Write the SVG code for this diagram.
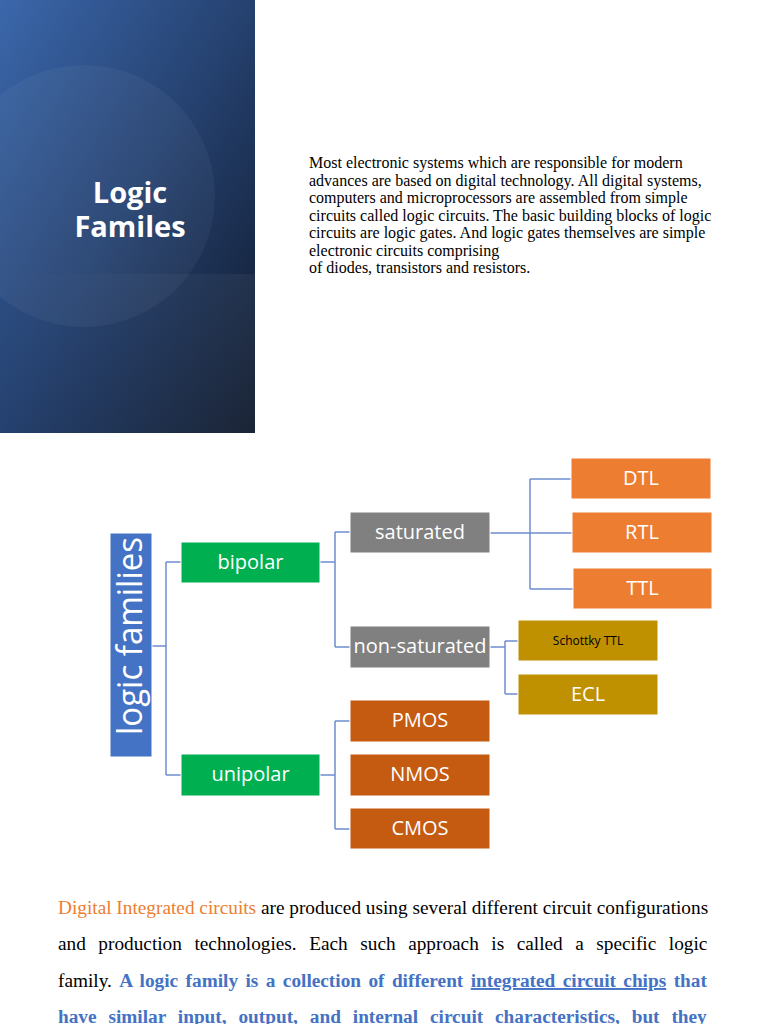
<svg xmlns="http://www.w3.org/2000/svg" width="768" height="1024" viewBox="0 0 768 1024">
<defs>
<linearGradient id="bg" x1="0" y1="0" x2="1" y2="1">
<stop offset="0" stop-color="#3b67ab"/>
<stop offset="0.5" stop-color="#25416f"/>
<stop offset="1" stop-color="#0f192b"/>
</linearGradient>
<linearGradient id="band" x1="0" y1="0" x2="1" y2="0">
<stop offset="0" stop-color="#ffffff" stop-opacity="0"/>
<stop offset="1" stop-color="#ffffff" stop-opacity="0.05"/>
</linearGradient>
<style>
.box{stroke:#ffffff;stroke-width:1}
.lbl{font-family:"Open Sans","Noto Sans",sans-serif;font-size:20px;fill:#ffffff;text-anchor:middle}
.conn{fill:none;stroke:#6f8fd0;stroke-width:1.5}
.para{font-family:"Liberation Serif","Times New Roman",serif;font-size:16px;fill:#000000}
.body{font-family:"Liberation Serif","Times New Roman",serif;font-size:19.3px;fill:#000000}
.bb{font-weight:bold;fill:#4472c4}
.ttl{font-family:"Open Sans","Noto Sans",sans-serif;font-weight:bold;font-size:29px;fill:#ffffff;text-anchor:middle}
</style>
</defs>
<rect width="768" height="1024" fill="#ffffff"/>

<g id="title-panel">
<rect x="0" y="0" width="255" height="433" fill="url(#bg)"/>
<rect x="0" y="274" width="255" height="159" fill="url(#band)"/>
<circle cx="84" cy="196" r="131" fill="#ffffff" fill-opacity="0.045"/>
<text class="ttl"><tspan x="130" y="203">Logic</tspan><tspan x="130" y="237">Familes</tspan></text>
</g>

<g id="intro-text">
<text x="309" y="168" class="para">Most electronic systems which are responsible for modern</text>
<text x="309" y="185.5" class="para">advances are based on digital technology. All digital systems,</text>
<text x="309" y="203" class="para">computers and microprocessors are assembled from simple</text>
<text x="309" y="220.5" class="para">circuits called logic circuits. The basic building blocks of logic</text>
<text x="309" y="238" class="para">circuits are logic gates. And logic gates themselves are simple</text>
<text x="309" y="255.5" class="para">electronic circuits comprising</text>
<text x="309" y="273" class="para">of diodes, transistors and resistors.</text>
</g>

<g id="connectors">
<path class="conn" d="M152 646 H166 M166 562 V775 M166 562 H181 M166 775 H181"/>
<path class="conn" d="M320 562 H335 M335 532 V647 M335 532 H350 M335 647 H350"/>
<path class="conn" d="M490 533 H572 M530 479 V589 M530 479 H571 M530 589 H573"/>
<path class="conn" d="M490 647 H505 M505 641 V694 M505 641 H518 M505 694 H518"/>
<path class="conn" d="M320 775 H335 M335 721 V829 M335 721 H350 M335 829 H350"/>
</g>

<g id="node-logic-families">
<rect class="box" x="110" y="533" width="42" height="224" fill="#4472c4"/>
<text class="lbl" transform="translate(142,636) rotate(-90)" x="0" y="0" style="font-size:34px" textLength="198" lengthAdjust="spacingAndGlyphs">logic families</text>
</g>
<g id="node-bipolar">
<rect class="box" x="181" y="542" width="139" height="41" fill="#00b050"/>
<text class="lbl" x="250.5" y="569">bipolar</text>
</g>
<g id="node-unipolar">
<rect class="box" x="181" y="754" width="139" height="42" fill="#00b050"/>
<text class="lbl" x="250.5" y="781">unipolar</text>
</g>
<g id="node-saturated">
<rect class="box" x="350" y="512" width="140" height="41" fill="#808080"/>
<text class="lbl" x="420" y="539">saturated</text>
</g>
<g id="node-non-saturated">
<rect class="box" x="350" y="626" width="140" height="42" fill="#808080"/>
<text class="lbl" x="420" y="653">non-saturated</text>
</g>
<g id="node-dtl">
<rect class="box" x="571" y="458" width="140" height="41" fill="#ed7d31"/>
<text class="lbl" x="641" y="485">DTL</text>
</g>
<g id="node-rtl">
<rect class="box" x="572" y="512" width="140" height="41" fill="#ed7d31"/>
<text class="lbl" x="642" y="539">RTL</text>
</g>
<g id="node-ttl">
<rect class="box" x="573" y="568" width="139" height="41" fill="#ed7d31"/>
<text class="lbl" x="642.5" y="595">TTL</text>
</g>
<g id="node-schottky-ttl">
<rect class="box" x="518" y="620" width="140" height="41" fill="#bf9000"/>
<text class="lbl" x="588" y="644.5" style="font-size:12px;fill:#000000">Schottky TTL</text>
</g>
<g id="node-ecl">
<rect class="box" x="518" y="674" width="140" height="41" fill="#bf9000"/>
<text class="lbl" x="588" y="701">ECL</text>
</g>
<g id="node-pmos">
<rect class="box" x="350" y="700" width="140" height="42" fill="#c55a11"/>
<text class="lbl" x="420" y="727">PMOS</text>
</g>
<g id="node-nmos">
<rect class="box" x="350" y="754" width="140" height="42" fill="#c55a11"/>
<text class="lbl" x="420" y="781">NMOS</text>
</g>
<g id="node-cmos">
<rect class="box" x="350" y="808" width="140" height="41" fill="#c55a11"/>
<text class="lbl" x="420" y="835">CMOS</text>
</g>

<g id="body-text">
<text class="body" x="58" y="914"><tspan fill="#ed7d31">Digital Integrated circuits</tspan> are produced using several different circuit configurations</text>
<text class="body" x="58" y="950" word-spacing="7.7">and production technologies. Each such approach is called a specific logic</text>
<text class="body" x="58" y="987" word-spacing="2.6">family. <tspan class="bb">A logic family is a collection of different </tspan><tspan class="bb" text-decoration="underline">integrated circuit chips</tspan><tspan class="bb"> that</tspan></text>
<text class="body bb" x="58" y="1023" word-spacing="7.06">have similar input, output, and internal circuit characteristics, but they</text>
</g>
</svg>
